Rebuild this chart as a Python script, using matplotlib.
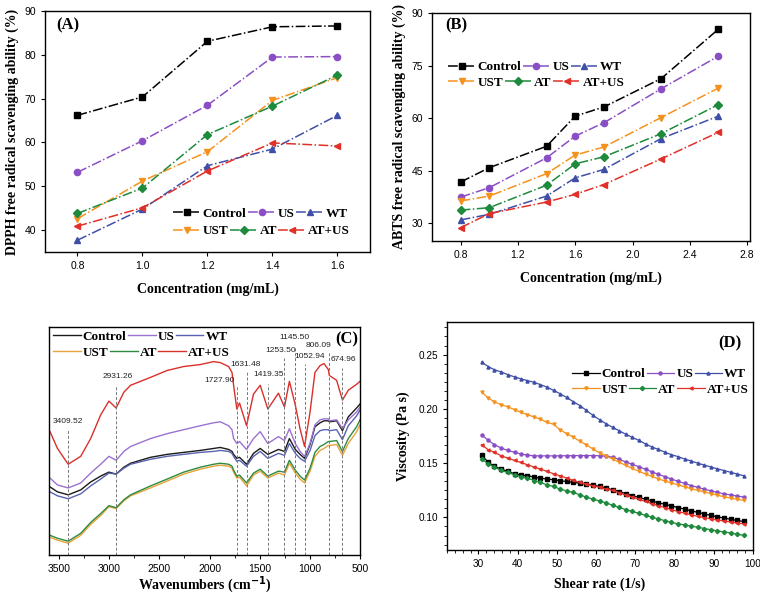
import matplotlib
matplotlib.use('Agg')
import matplotlib.pyplot as plt
from matplotlib.ticker import MultipleLocator, AutoMinorLocator, NullLocator, FormatStrFormatter

SERIF = 'Liberation Serif'
plt.rcParams['font.family'] = ['Liberation Sans', 'DejaVu Sans']

# ---------------- data ----------------
names = ['Control', 'US', 'WT', 'UST', 'AT', 'AT+US']

# (A) DPPH
conc_a = [0.8, 1.0, 1.2, 1.4, 1.6]
dpph_control = [66.2, 70.4, 83.1, 86.4, 86.6]
dpph_us = [53.2, 60.4, 68.5, 79.5, 79.6]
dpph_wt = [37.7, 44.8, 54.7, 58.5, 66.2]
dpph_ust = [42.6, 51.2, 57.9, 69.6, 74.8]
dpph_at = [43.8, 49.6, 61.8, 68.3, 75.4]
dpph_atus = [40.9, 45.1, 53.5, 59.9, 59.2]

# (B) ABTS
conc_b = [0.8, 1.0, 1.4, 1.6, 1.8, 2.2, 2.6]
abts_control = [41.8, 45.9, 52.0, 60.6, 63.2, 71.3, 85.4]
abts_us = [37.5, 40.2, 48.7, 54.9, 58.7, 68.4, 77.7]
abts_wt = [31.0, 32.6, 37.8, 43.0, 45.4, 54.2, 60.6]
abts_ust = [36.4, 37.8, 44.2, 49.5, 51.8, 60.2, 68.6]
abts_at = [33.8, 34.5, 40.9, 47.0, 49.0, 55.6, 63.9]
abts_atus = [28.8, 32.8, 36.1, 38.3, 41.1, 48.4, 56.0]

# (C) FTIR (arbitrary transmittance units)
wavenumber = [3590, 3516, 3409, 3284, 3185, 3085, 3003, 2931, 2854, 2787, 2589, 2422, 2258, 2092,
              1959, 1893, 1810, 1776, 1760, 1728, 1701, 1631, 1562, 1495, 1419, 1313, 1253, 1204,
              1145, 1098, 1053, 998, 949, 898, 859, 816, 806, 733, 675, 617, 534, 500]
ftir_atus = [125, 108, 92, 100, 118, 142, 156, 149, 165, 172, 180, 187, 191, 193, 196, 195, 191, 185,
             172, 148, 154, 131, 163, 172, 148, 164, 150, 176, 152, 128, 110, 145, 185, 192, 194, 188,
             182, 177, 157, 167, 173, 176]
ftir_us = [78, 71, 68, 73, 83, 92, 100, 96, 105, 110, 118, 123, 127, 131, 134, 135, 131, 127, 118, 113,
           115, 107, 118, 125, 113, 120, 116, 128, 113, 105, 100, 113, 132, 137, 138, 138, 136, 137,
           128, 137, 145, 150]
ftir_control = [69, 64, 61, 66, 74, 80, 84, 82, 89, 93, 99, 102, 104, 106, 108, 109, 107, 105, 102, 98,
                99, 92, 103, 108, 102, 107, 105, 118, 107, 102, 98, 112, 130, 134, 136, 136, 135, 136,
                126, 140, 149, 153]
ftir_wt = [64, 60, 57, 62, 70, 77, 83, 82, 88, 92, 97, 100, 102, 104, 105, 106, 105, 103, 100, 95, 96,
           90, 100, 105, 98, 103, 101, 113, 103, 98, 95, 106, 121, 126, 127, 127, 126, 127, 117, 131,
           141, 147]
ftir_at = [20, 17, 14, 22, 33, 42, 50, 48, 56, 61, 70, 77, 84, 89, 92, 93, 92, 90, 86, 80, 81, 73, 83,
           87, 80, 85, 84, 96, 86, 80, 76, 88, 104, 110, 112, 115, 115, 116, 105, 118, 130, 137]
ftir_ust = [18, 15, 12, 20, 31, 40, 49, 47, 55, 60, 68, 75, 82, 87, 90, 91, 90, 88, 84, 78, 79, 70, 81,
            85, 78, 83, 81, 93, 83, 77, 73, 85, 100, 106, 108, 111, 111, 112, 101, 113, 125, 132]
peak_labels = ['3409.52', '2931.26', '1727.90', '1631.48', '1419.35', '1253.50', '1145.50',
               '1052.94', '806.09', '674.96']

# (D) viscosity
shear = [30.8, 32.5, 34.1, 35.8, 37.5, 39.2, 40.8, 42.5, 44.2, 45.8, 47.5, 49.2, 50.8, 52.5, 54.2,
         55.9, 57.5, 59.2, 60.9, 62.5, 64.2, 65.9, 67.5, 69.2, 70.9, 72.6, 74.2, 75.9, 77.6, 79.2,
         80.9, 82.6, 84.2, 85.9, 87.6, 89.3, 90.9, 92.6, 94.3, 95.9, 97.6]
visc_wt = [0.243, 0.239, 0.236, 0.234, 0.2315, 0.2295, 0.2277, 0.226, 0.2245, 0.2223, 0.220, 0.217,
           0.214, 0.2105, 0.2066, 0.203, 0.1986, 0.194, 0.190, 0.1864, 0.183, 0.1798, 0.1768, 0.1738,
           0.171, 0.1677, 0.165, 0.1626, 0.160, 0.1578, 0.156, 0.1538, 0.152, 0.150, 0.1482, 0.1464,
           0.1448, 0.1432, 0.1416, 0.140, 0.1385]
visc_ust = [0.2156, 0.210, 0.2064, 0.2039, 0.2018, 0.1993, 0.1968, 0.1947, 0.1925, 0.1905, 0.1875,
            0.1858, 0.1808, 0.1771, 0.174, 0.170, 0.167, 0.163, 0.1595, 0.1568, 0.1537, 0.1508, 0.148,
            0.1452, 0.1425, 0.140, 0.1378, 0.1355, 0.1335, 0.1317, 0.130, 0.1282, 0.1265, 0.125,
            0.1235, 0.122, 0.1205, 0.119, 0.1178, 0.1167, 0.1157]
visc_us = [0.1762, 0.171, 0.167, 0.1639, 0.1617, 0.160, 0.1585, 0.1573, 0.1568, 0.1567, 0.1567,
           0.1567, 0.1568, 0.1568, 0.1569, 0.157, 0.157, 0.157, 0.1568, 0.1565, 0.1555, 0.1535,
           0.1512, 0.149, 0.1467, 0.1443, 0.142, 0.1397, 0.1375, 0.1353, 0.1333, 0.1313, 0.1294,
           0.1277, 0.126, 0.1245, 0.1231, 0.1218, 0.1207, 0.1197, 0.1188]
visc_atus = [0.167, 0.1624, 0.160, 0.1568, 0.1547, 0.1525, 0.1507, 0.1485, 0.1464, 0.1446, 0.1424,
             0.1402, 0.1384, 0.1363, 0.1341, 0.1322, 0.1307, 0.1292, 0.1278, 0.1263, 0.125, 0.1228,
             0.1207, 0.1188, 0.1168, 0.1147, 0.1128, 0.1108, 0.109, 0.1072, 0.1054, 0.1039, 0.1025,
             0.1011, 0.0998, 0.0987, 0.0977, 0.0967, 0.0958, 0.0949, 0.0941]
visc_control = [0.1577, 0.1507, 0.147, 0.1446, 0.1424, 0.1402, 0.139, 0.1384, 0.1372, 0.1362, 0.1353,
                0.1347, 0.1338, 0.1331, 0.1322, 0.1316, 0.1307, 0.1298, 0.1285, 0.127, 0.1255, 0.1238,
                0.122, 0.120, 0.1185, 0.1167, 0.115, 0.1135, 0.1121, 0.1106, 0.1091, 0.1076, 0.1061,
                0.1047, 0.1032, 0.1018, 0.1006, 0.0994, 0.0983, 0.0972, 0.0963]
visc_at = [0.1538, 0.1494, 0.1464, 0.1433, 0.1414, 0.1393, 0.1377, 0.1362, 0.134, 0.1322, 0.130,
           0.1285, 0.1261, 0.1245, 0.123, 0.1208, 0.1187, 0.1169, 0.1152, 0.1135, 0.1112, 0.1092,
           0.1073, 0.1055, 0.1038, 0.1018, 0.1002, 0.0986, 0.097, 0.0955, 0.0941, 0.093, 0.092,
           0.091, 0.0898, 0.0886, 0.0876, 0.0867, 0.0857, 0.0846, 0.0835]

# ---------------- styles ----------------
colors_ab = ['#000000', '#8A4FC4', '#3F4FA8', '#F5921E', '#1E8A3C', '#E03027']
colors_c = ['#1a1a1a', '#9B72D0', '#5A63B0', '#E8A33A', '#2E8B3F', '#D9302C']
markers = ['s', 'o', '^', 'v', 'D', '<']

leg_font = {'family': SERIF, 'weight': 'bold', 'size': 9.5}
lab_font = dict(fontfamily=SERIF, fontweight='bold', fontsize=10)

fig = plt.figure(figsize=(7.6, 5.99), dpi=100)


def style_axes(ax, labelsize=7.5):
    ax.tick_params(direction='out', labelsize=labelsize, length=3, width=0.8)
    for s in ax.spines.values():
        s.set_linewidth(1.0)


def legend_rows(ax, handles, x, y1, y2):
    """Two independent legend rows (Origin style): Control/US/WT then UST/AT/AT+US."""
    legs = []
    for hs, y in ((handles[:3], y1), (handles[3:], y2)):
        lg = ax.legend(handles=hs, ncol=3, loc='center left', bbox_to_anchor=(x, y),
                       frameon=False, prop=leg_font, handlelength=2.1, columnspacing=0.1,
                       handletextpad=0.15, borderpad=0, borderaxespad=0)
        legs.append(lg)
    ax.add_artist(legs[0])


# ---------- (A) ----------
axA = fig.add_axes([0.0592, 0.5793, 0.4276, 0.4023])
dpph = [dpph_control, dpph_us, dpph_wt, dpph_ust, dpph_at, dpph_atus]
hA = []
for i, ys in enumerate(dpph):
    l, = axA.plot(conc_a, ys, linestyle='-.', marker=markers[i], color=colors_ab[i], lw=1.1,
                  markersize=4.5, label=names[i])
    hA.append(l)
axA.set_xlim(0.7, 1.7)
axA.set_ylim(35, 90)
axA.xaxis.set_major_locator(MultipleLocator(0.2))
axA.yaxis.set_major_locator(MultipleLocator(10))
axA.xaxis.set_major_formatter(FormatStrFormatter('%.1f'))
style_axes(axA)
axA.set_xlabel('Concentration (mg/mL)', labelpad=8, **lab_font)
axA.set_ylabel('DPPH free radical scavenging ability (%)', labelpad=4, **lab_font)
axA.text(0.034, 0.94, '(A)', transform=axA.transAxes, ha='left', va='center',
         fontfamily=SERIF, fontweight='bold', fontsize=12)
legend_rows(axA, hA, 0.394, 0.158, 0.087)

# ---------- (B) ----------
axB = fig.add_axes([0.5684, 0.5977, 0.4184, 0.3806])
abts = [abts_control, abts_us, abts_wt, abts_ust, abts_at, abts_atus]
hB = []
for i, ys in enumerate(abts):
    l, = axB.plot(conc_b, ys, linestyle='-.', marker=markers[i], color=colors_ab[i], lw=1.1,
                  markersize=4.5, label=names[i])
    hB.append(l)
axB.set_xlim(0.6, 2.82)
axB.set_ylim(25, 90)
axB.xaxis.set_major_locator(MultipleLocator(0.4))
axB.yaxis.set_major_locator(MultipleLocator(15))
axB.xaxis.set_major_formatter(FormatStrFormatter('%.1f'))
style_axes(axB)
axB.set_xlabel('Concentration (mg/mL)', labelpad=8, **lab_font)
axB.set_ylabel('ABTS free radical scavenging ability (%)', labelpad=4, **lab_font)
axB.text(0.041, 0.947, '(B)', transform=axB.transAxes, ha='left', va='center',
         fontfamily=SERIF, fontweight='bold', fontsize=12)
legend_rows(axB, hB, 0.05, 0.763, 0.693)

# ---------- (C) ----------
axC = fig.add_axes([0.0645, 0.0734, 0.4092, 0.3806])
ftir = [ftir_control, ftir_us, ftir_wt, ftir_ust, ftir_at, ftir_atus]
hC = []
for i, ys in enumerate(ftir):
    l, = axC.plot(wavenumber, ys, color=colors_c[i], lw=1.0, label=names[i])
    hC.append(l)
axC.set_xlim(3600, 500)
axC.set_ylim(0, 231)
axC.xaxis.set_major_locator(MultipleLocator(500))
axC.xaxis.set_minor_locator(MultipleLocator(250))
axC.yaxis.set_major_locator(NullLocator())
style_axes(axC)
axC.tick_params(axis='x', which='minor', direction='out', length=2)
axC.set_xlabel('Wavenumbers (cm$^{\\mathbf{-1}}$)', labelpad=0, **lab_font)
# peak marker lines and labels
peak_pos = [3409.52, 2931.26, 1727.90, 1631.48, 1419.35, 1253.50, 1145.50, 1052.94, 806.09, 674.96]
line_top = [128, 172, 172, 185, 173, 200, 212, 194, 207, 190]
text_x = [3409, 2920, 1745, 1640, 1410, 1296, 1155, 998, 910, 665]
text_y = [132, 177, 173, 190, 179, 204, 217, 198, 209, 195]
text_ha = ['center', 'center', 'right', 'center', 'center', 'center', 'center', 'center',
           'center', 'center']
for p, top, tx, ty, ha, lab in zip(peak_pos, line_top, text_x, text_y, text_ha, peak_labels):
    axC.plot([p, p], [0, top], color='#777777', lw=0.7, linestyle=(0, (3, 2)))
    axC.text(tx, ty, lab, ha=ha, va='bottom', fontsize=6, color='#222222')
axC.text(0.994, 0.944, '(C)', transform=axC.transAxes, ha='right', va='center',
         fontfamily=SERIF, fontweight='bold', fontsize=12)
legend_rows(axC, hC, 0.013, 0.957, 0.887)

# ---------- (D) ----------
axD = fig.add_axes([0.5882, 0.0818, 0.4026, 0.3806])
visc = [visc_control, visc_us, visc_wt, visc_ust, visc_at, visc_atus]
hD = []
for i, ys in enumerate(visc):
    l, = axD.plot(shear, ys, linestyle='-', marker=markers[i], color=colors_ab[i], lw=0.9,
                  markersize=2.2, label=names[i])
    hD.append(l)
axD.set_xlim(22, 100)
axD.set_ylim(0.07, 0.28)
axD.xaxis.set_major_locator(MultipleLocator(10))
axD.xaxis.set_minor_locator(MultipleLocator(2))
axD.yaxis.set_major_locator(MultipleLocator(0.05))
axD.yaxis.set_minor_locator(AutoMinorLocator(6))
axD.yaxis.set_major_formatter(FormatStrFormatter('%.2f'))
style_axes(axD, labelsize=7.2)
axD.tick_params(which='minor', direction='out', length=2, width=0.6)
axD.set_xlabel('Shear rate (1/s)', labelpad=6, **lab_font)
axD.set_ylabel('Viscosity (Pa s)', labelpad=6, **lab_font)
axD.text(0.964, 0.908, '(D)', transform=axD.transAxes, ha='right', va='center',
         fontfamily=SERIF, fontweight='bold', fontsize=12)
legend_rows(axD, hD, 0.408, 0.772, 0.702)

fig.savefig('out.png', dpi=100)
